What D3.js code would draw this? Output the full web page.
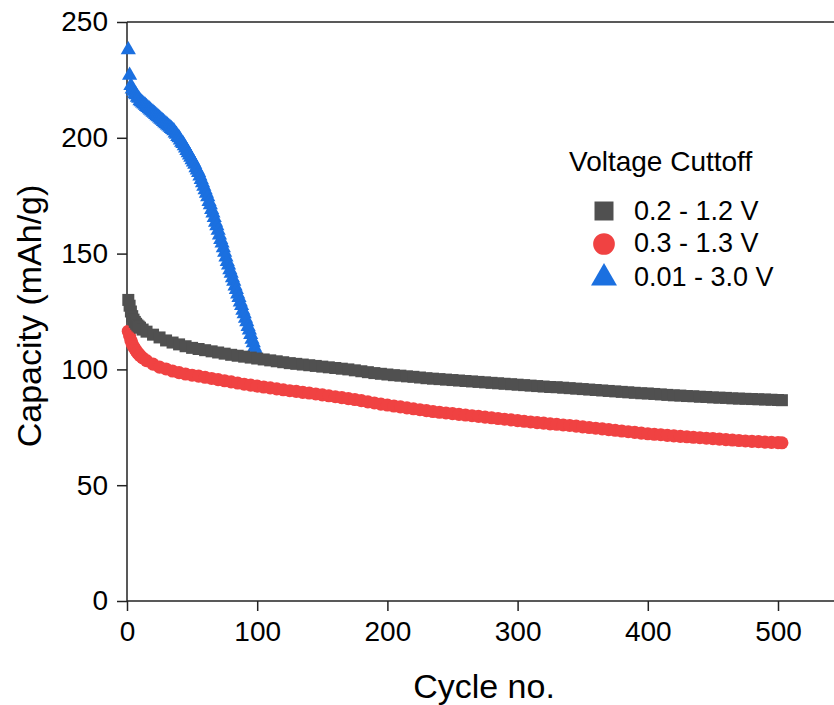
<!DOCTYPE html>
<html>
<head>
<meta charset="utf-8">
<script src="https://cdnjs.cloudflare.com/ajax/libs/d3/7.8.5/d3.min.js"></script>
<style>
  body { margin: 0; background: #fff; }
  text { font-family: "Liberation Sans", Arial, sans-serif; fill: #000; }
</style>
</head>
<body>
<div id="chart"></div>
<script>
// cycles sampled for the two long runs
var cycles = [1, 2, 3, 4, 5, 6, 7, 8, 9, 10, 12, 15, 20, 25, 30, 35, 40, 45, 50, 55, 60, 65, 70, 75, 80, 85, 90, 95, 100,
  105, 110, 115, 120, 125, 130, 135, 140, 145, 150, 155, 160, 165, 170, 175, 180, 185, 190, 195, 200,
  205, 210, 215, 220, 225, 230, 235, 240, 245, 250, 255, 260, 265, 270, 275, 280, 285, 290, 295, 300,
  305, 310, 315, 320, 325, 330, 335, 340, 345, 350, 355, 360, 365, 370, 375, 380, 385, 390, 395, 400,
  405, 410, 415, 420, 425, 430, 435, 440, 445, 450, 455, 460, 465, 470, 475, 480, 485, 490, 495, 500, 503];

// 0.2 - 1.2 V
var capGray = [130, 127.5, 125, 123, 121.5, 120.5, 119.7, 119, 118.5, 118, 117.2, 116.3, 115, 113.8, 112.5, 111.6, 110.8, 110, 109.3, 108.8, 108.3, 107.8, 107.3, 106.8, 106.3, 105.9, 105.5, 105.1, 104.7,
  104.3, 103.9, 103.5, 103.1, 102.7, 102.4, 102.1, 101.8, 101.5, 101.2, 100.9, 100.6, 100.3, 100, 99.6, 99.2, 98.8, 98.4, 98.1, 97.8,
  97.5, 97.3, 97, 96.8, 96.5, 96.2, 96, 95.8, 95.6, 95.4, 95.2, 95, 94.8, 94.6, 94.4, 94.2, 94, 93.8, 93.6, 93.4,
  93.2, 93, 92.8, 92.6, 92.4, 92.3, 92.1, 91.9, 91.7, 91.5, 91.3, 91.1, 90.9, 90.7, 90.5, 90.3, 90.1, 89.9, 89.7, 89.6,
  89.4, 89.2, 89, 88.8, 88.7, 88.5, 88.4, 88.2, 88.1, 87.9, 87.8, 87.7, 87.5, 87.4, 87.3, 87.2, 87.1, 87, 86.9, 86.8, 86.7];

// 0.3 - 1.3 V
var capRed = [116.5, 114.5, 112.5, 111, 109.8, 109, 108, 107.3, 106.6, 106, 105, 103.8, 102.3, 101, 100.2, 99.3, 98.6, 98, 97.5, 97.1, 96.6, 96.1, 95.6, 95.1, 94.6, 94.1, 93.6, 93.2, 92.8,
  92.4, 92, 91.6, 91.2, 90.8, 90.5, 90.1, 89.8, 89.4, 89, 88.6, 88.2, 87.8, 87.4, 87, 86.5, 86, 85.5, 85, 84.6,
  84.2, 83.8, 83.4, 83, 82.6, 82.2, 81.8, 81.5, 81.2, 80.9, 80.6, 80.3, 80, 79.7, 79.4, 79.1, 78.8, 78.5, 78.2, 77.9,
  77.6, 77.3, 77, 76.8, 76.5, 76.3, 76, 75.8, 75.5, 75.2, 74.9, 74.6, 74.3, 74, 73.7, 73.4, 73.1, 72.8, 72.5, 72.2,
  72, 71.8, 71.5, 71.3, 71.1, 70.9, 70.7, 70.5, 70.3, 70.1, 69.9, 69.7, 69.5, 69.3, 69.1, 68.9, 68.8, 68.6, 68.5, 68.4, 68.3];

// 0.01 - 3.0 V, cycles 1..100
var cyclesBlue = [1, 2, 3, 4, 5, 6, 7, 8, 9, 10, 11, 12, 13, 14, 15, 16, 17, 18, 19, 20,
  21, 22, 23, 24, 25, 26, 27, 28, 29, 30, 31, 32, 33, 34, 35, 36, 37, 38, 39, 40,
  41, 42, 43, 44, 45, 46, 47, 48, 49, 50, 51, 52, 53, 54, 55, 56, 57, 58, 59, 60,
  61, 62, 63, 64, 65, 66, 67, 68, 69, 70, 71, 72, 73, 74, 75, 76, 77, 78, 79, 80,
  81, 82, 83, 84, 85, 86, 87, 88, 89, 90, 91, 92, 93, 94, 95, 96, 97, 98, 99, 100];
var capBlue = [238, 227, 222.5, 221, 220, 219, 218.5, 217.5, 217, 216, 215.5, 215, 214.5, 214, 213.5, 213, 212.5, 212, 211.5, 211,
  210.5, 210, 209.5, 209, 208.5, 208, 207.5, 207, 206.5, 206, 205.5, 205, 204.5, 204, 203.5, 203, 202, 201.5, 200.5, 200,
  199, 198, 197.5, 196.5, 195.5, 194.5, 193.5, 192.5, 191.5, 190.5, 189.5, 188.5, 187, 186, 185, 183.5, 182, 180.5, 179, 177.5,
  176, 174.5, 172.5, 171, 169, 167.5, 165.5, 163.5, 162, 160, 158, 156, 154.5, 152.5, 150.5, 148.5, 146.5, 145, 143, 141.5,
  139.5, 138, 136, 134.5, 132.5, 131, 129, 127.5, 125.5, 124, 122, 120.5, 118.5, 117, 115, 113, 111.5, 109.5, 108, 106.5];

var xTicks = [0, 100, 200, 300, 400, 500];
var yTicks = [0, 50, 100, 150, 200, 250];
var legendTitle = "Voltage Cuttoff";
var seriesNames = ["0.2 - 1.2 V", "0.3 - 1.3 V", "0.01 - 3.0 V"];

var w = 834, h = 705;
var mLeft = 127, mBottom = 601, mTop = 22, mRight = 834;

var svg = d3.select("#chart").append("svg")
  .attr("width", w)
  .attr("height", h);

var x = d3.scaleLinear().domain([0, 500]).range([mLeft, 778]);
var y = d3.scaleLinear().domain([0, 250]).range([mBottom, mTop]);

var gray = "#505050", red = "#f04242", blue = "#1b70e0";

// series (blue underneath)
function drawSeries(xs, ys, type, size, color) {
  var pts = xs.map((c, i) => [c, ys[i]]);
  svg.append("g").selectAll("path")
    .data(pts)
    .enter()
    .append("path")
    .attr("transform", d => `translate(${x(d[0])},${y(d[1])})`)
    .attr("d", d3.symbol().type(type).size(size))
    .attr("fill", color);
}

// axes
var xAxis = svg.append("g")
  .attr("transform", `translate(0,${mBottom})`)
  .call(d3.axisBottom(x).tickValues(xTicks).tickSize(10).tickPadding(10));
var yAxis = svg.append("g")
  .attr("transform", `translate(${mLeft},0)`)
  .call(d3.axisLeft(y).tickValues(yTicks).tickSize(10).tickPadding(9));

[xAxis, yAxis].forEach(a => {
  a.select(".domain").remove();
  a.selectAll("line").attr("stroke", "#222").attr("stroke-width", 1.5);
  a.selectAll("text").style("font-size", "28px").attr("fill", "#000");
});

// frame lines
svg.append("line").attr("x1", mLeft).attr("x2", mLeft).attr("y1", mTop).attr("y2", mBottom)
  .attr("stroke", "#222").attr("stroke-width", 1.5);
svg.append("line").attr("x1", mLeft).attr("x2", mRight).attr("y1", mBottom).attr("y2", mBottom)
  .attr("stroke", "#222").attr("stroke-width", 1.5);
svg.append("line").attr("x1", mLeft).attr("x2", mRight).attr("y1", mTop).attr("y2", mTop)
  .attr("stroke", "#222").attr("stroke-width", 1.5);

drawSeries(cyclesBlue, capBlue, d3.symbolTriangle, 100, blue);
drawSeries(cycles, capRed, d3.symbolCircle, 135, red);
drawSeries(cycles, capGray, d3.symbolSquare, 144, gray);

// axis titles
svg.append("text")
  .attr("x", 484).attr("y", 698)
  .attr("text-anchor", "middle")
  .style("font-size", "34px")
  .text("Cycle no.");

svg.append("text")
  .attr("transform", "translate(41,316) rotate(-90)")
  .attr("text-anchor", "middle")
  .style("font-size", "34px")
  .text("Capacity (mAh/g)");

// legend
var lg = svg.append("g");
lg.append("text").attr("x", 569).attr("y", 171).style("font-size", "28px").text(legendTitle);

var legendItems = [
  { type: d3.symbolSquare, size: 361, color: gray, cy: 211, ty: 220 },
  { type: d3.symbolCircle, size: 370, color: red, cy: 244, ty: 252 },
  { type: d3.symbolTriangle, size: 292, color: blue, cy: 278, ty: 286 }
];
legendItems.forEach((d, i) => {
  lg.append("path")
    .attr("transform", `translate(604,${d.cy})`)
    .attr("d", d3.symbol().type(d.type).size(d.size))
    .attr("fill", d.color);
  lg.append("text")
    .attr("x", 634).attr("y", d.ty)
    .style("font-size", "27px")
    .text(seriesNames[i]);
});
</script>
</body>
</html>
